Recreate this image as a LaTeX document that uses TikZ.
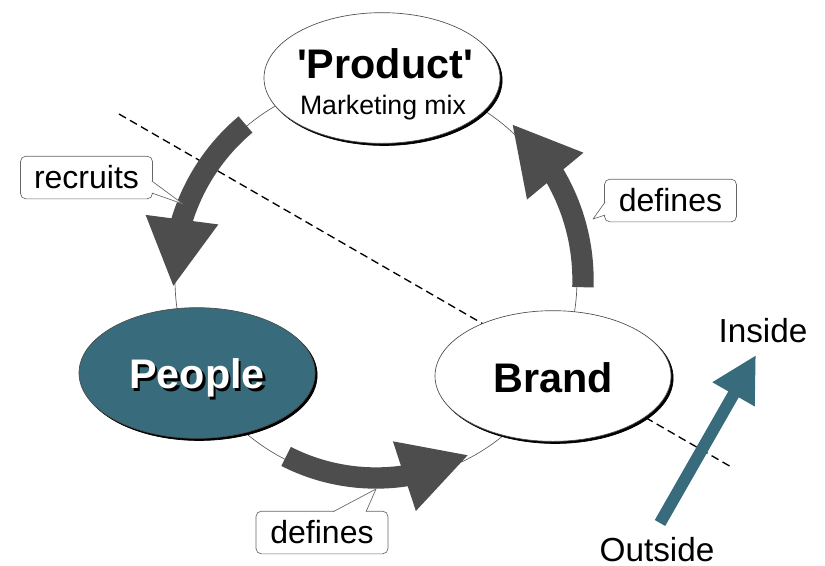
\documentclass[tikz,border=0pt]{standalone}
\usepackage{fontspec}
\setmainfont{Liberation Sans}
\newfontfamily\rawfont{Liberation Sans}
\usetikzlibrary{arrows.meta,bending,shapes.geometric,shadows,calc}
\definecolor{petrol}{RGB}{56,107,124}
\definecolor{arrowgray}{RGB}{77,77,77}
% pointer of a callout box: two base points and the tip
\newcommand\calloutpin[3]{%
  \fill[white] (#1) -- (#3) -- (#2) -- cycle;
  \draw[black!60,line width=0.5pt] (#1) -- (#3) -- (#2);}
\begin{document}
\begin{tikzpicture}[x=0.75pt,y=0.75pt,line join=round,>=stealth]
        \tikzset{bubble/.style={ellipse,draw=black!70,line width=0.5pt,fill=white,minimum width=177pt,minimum height=98pt,inner sep=0pt,
                general shadow={fill=black,draw=black,shadow xshift=1.6pt,shadow yshift=-1.6pt}},
            title/.style={font=\fontsize{31}{31}\selectfont\bfseries},
            tag/.style={draw=black!60,line width=0.5pt,rounded corners=4pt,fill=white,minimum width=99pt,minimum height=32pt,inner sep=0pt,font=\fontsize{24}{24}\selectfont},
            loop/.style={line width=16pt,draw=arrowgray,-{Triangle[length=51pt,width=51pt,flex]}}}
        \useasboundingbox (0,0) rectangle (825,-565);
        % circle and the inside/outside border
        \coordinate (hub) at (376,-280);
        \draw[black!65,line width=0.5pt] (hub) circle[radius=201];
        \draw[dashed,dash pattern=on 6pt off 3.5pt,line width=1pt] (119,-114) -- (733,-468);
        % the three ellipses
        \node[bubble] (product) at (382,-78) {};
        \node[bubble,fill=petrol] (people) at (197,-373) {};
        \node[bubble] (brand) at (553,-376) {};
        \node[font=\fontsize{31}{31}\rawfont\bfseries] (prodname) at (385,-64) {'Product'};
        \node[font=\fontsize{20}{20}\selectfont] (prodmix) at (383,-108) {Marketing mix};
        \node[title,text=black] (peopleshade) at (199.5,-380.5) {People};
        \node[title,text=white] (peoplename) at (197,-378) {People};
        \node[title] (brandname) at (553,-378) {Brand};
        % flow along the circle
        \draw[loop] ([shift={(130:203)}]hub) arc[start angle=130,end angle=182,radius=203];
        \draw[loop] ([shift={(243:198)}]hub) arc[start angle=243,end angle=298,radius=198];
        \draw[loop] ([shift={(-2:207)}]hub) arc[start angle=-2,end angle=49,radius=207];
        % callouts
        \node[tag] (recruits) at (86.5,-177.5) {recruits};
        \node[tag] (defbottom) at (322,-532.5) {defines};
        \node[tag] (defright) at (670.5,-200.5) {defines};
        \calloutpin{$(recruits.east)+(-1,-3.5)$}{$(recruits.east)+(-1,-15.5)$}{183,-204}
        \calloutpin{$(defbottom.north)+(11,-1)$}{$(defbottom.north)+(44,-1)$}{376,-489}
        \calloutpin{$(defright.west)+(1,-1.5)$}{$(defright.west)+(1,-14.5)$}{593,-219}
        % outside to inside
        \node[font=\fontsize{25}{25}\selectfont] (inside) at (763,-331) {Inside};
        \node[font=\fontsize{25}{25}\selectfont] (outside) at (657,-550) {Outside};
        \coordinate (outfoot) at (660,-523);
        \coordinate (intip) at (756,-355);
        \draw[line width=9pt,draw=petrol,-{Triangle[length=34pt,width=34pt]}] (outfoot) -- (intip);
    \end{tikzpicture}
\end{document}
